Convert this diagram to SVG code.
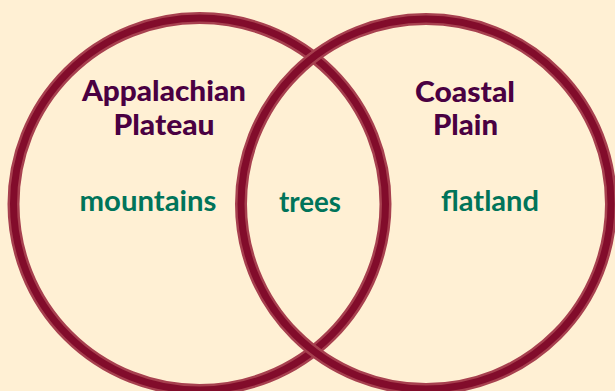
<svg xmlns="http://www.w3.org/2000/svg" width="615" height="391" viewBox="0 0 615 391">
<style>
.ring-outer{fill:none;stroke:#a7404f;stroke-width:12}
.ring-inner{fill:none;stroke:#820c2b;stroke-width:7}
.title{font-family:Lato,"Open Sans","Liberation Sans",sans-serif;font-weight:900;font-size:29px;fill:#4a0042;text-anchor:middle}
.item{font-family:Lato,"Open Sans","Liberation Sans",sans-serif;font-weight:700;font-size:28px;fill:#00745a;text-anchor:middle}
</style>
<rect width="615" height="391" fill="#fff0d4"/>
<g id="left-set">
<circle class="ring-outer" cx="199.5" cy="204" r="186"/>
<circle class="ring-inner" cx="199.5" cy="204" r="186"/>
<text class="title" x="164" y="101" textLength="164" lengthAdjust="spacingAndGlyphs">Appalachian</text>
<text class="title" x="164" y="135" textLength="101" lengthAdjust="spacingAndGlyphs">Plateau</text>
<text class="item" x="148" y="211" textLength="137" lengthAdjust="spacingAndGlyphs">mountains</text>
</g>
<g id="right-set">
<circle class="ring-outer" cx="426" cy="204" r="185"/>
<circle class="ring-inner" cx="426" cy="204" r="185"/>
<text class="title" x="465" y="102" textLength="100" lengthAdjust="spacingAndGlyphs">Coastal</text>
<text class="title" x="465.5" y="135" textLength="65" lengthAdjust="spacingAndGlyphs">Plain</text>
<text class="item" x="490" y="211" textLength="98" lengthAdjust="spacingAndGlyphs">flatland</text>
</g>
<g id="overlap">
<text class="item" x="310" y="212" textLength="62" lengthAdjust="spacingAndGlyphs">trees</text>
</g>
<g id="connectors"/>
</svg>
